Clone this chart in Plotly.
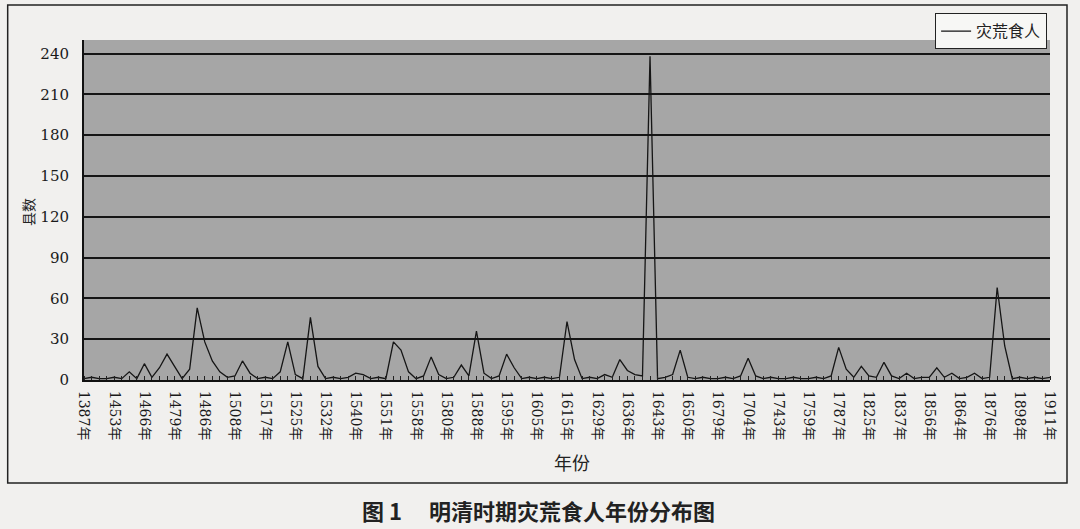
import plotly.graph_objects as go

# Tick labels shown every 4 categories along the category axis
tick_labels = ["1387年", "1453年", "1466年", "1479年", "1486年", "1508年", "1517年", "1525年",
               "1532年", "1540年", "1551年", "1558年", "1580年", "1588年", "1595年", "1605年",
               "1615年", "1629年", "1636年", "1643年", "1650年", "1679年", "1704年", "1743年",
               "1759年", "1787年", "1825年", "1837年", "1856年", "1864年", "1876年", "1898年",
               "1911年"]
label_step = 4

# County counts per category
counts = [1, 2, 1, 1, 2, 1, 6, 1, 12, 2, 9, 19, 10, 1, 8, 53, 28, 14, 6, 2,
          3, 14, 5, 1, 2, 1, 6, 28, 4, 1, 46, 10, 1, 2, 1, 2, 5, 4, 1, 2,
          1, 28, 22, 6, 1, 3, 17, 4, 1, 2, 11, 3, 36, 5, 1, 3, 19, 9, 1, 2,
          1, 2, 1, 2, 43, 15, 1, 2, 1, 4, 2, 15, 7, 4, 3, 238, 1, 2, 4, 22,
          2, 1, 2, 1, 1, 2, 1, 3, 16, 3, 1, 2, 1, 1, 2, 1, 1, 2, 1, 3,
          24, 8, 2, 10, 3, 2, 13, 3, 1, 5, 1, 2, 2, 9, 2, 5, 1, 2, 5, 1,
          2, 68, 25, 1, 2, 1, 2, 1, 2]

series_name = "灾荒食人"
y_title = "县数"
x_title = "年份"
fig_title = "图 1　 明清时期灾荒食人年份分布图"
y_ticks = [0, 30, 60, 90, 120, 150, 180, 210, 240]

x_idx = list(range(len(counts)))
tick_pos = [i * label_step for i in range(len(tick_labels))]

fig = go.Figure()
fig.add_trace(go.Scatter(
    x=x_idx, y=counts, mode="lines", name=series_name,
    line=dict(color="#151515", width=1.3),
))

serif = "DejaVu Serif, Noto Sans CJK SC"
fig.update_layout(
    width=1080, height=529,
    margin=dict(l=84, r=30, t=40, b=149),
    paper_bgcolor="#f1f0ee",
    plot_bgcolor="#a6a6a6",
    showlegend=True,
    legend=dict(
        x=0.997, y=1.079, xanchor="right", yanchor="top",
        bgcolor="#f7f7f5", bordercolor="#222", borderwidth=1,
        font=dict(family="Noto Sans CJK SC", size=16, color="#222"),
        itemwidth=30, tracegroupgap=0,
    ),
    xaxis=dict(
        range=[0, len(counts) - 1],
        tickmode="array", tickvals=tick_pos, ticktext=tick_labels,
        tickangle=90, ticks="", ticklabelstandoff=6,
        tickfont=dict(family=serif, size=14, color="#1a1a1a"),
        showgrid=False, zeroline=False,
        showline=True, linecolor="#111", linewidth=2,
        minor=dict(tickmode="array", tickvals=x_idx, ticks="inside",
                   ticklen=4, tickcolor="#222", tickwidth=1),
    ),
    yaxis=dict(
        range=[0, 250],
        tickmode="array", tickvals=y_ticks,
        ticks="", ticklabelstandoff=10,
        tickfont=dict(family=serif, size=15, color="#1a1a1a"),
        showgrid=True, gridcolor="#151515", gridwidth=1.6,
        zeroline=False,
        showline=True, linecolor="#111", linewidth=2,
    ),
    shapes=[dict(type="rect", xref="paper", yref="paper",
                 x0=-0.079, x1=1.0176, y0=-0.303, y1=1.103,
                 line=dict(color="#222", width=1.5), fillcolor="rgba(0,0,0,0)",
                 layer="below")],
    annotations=[
        dict(text=y_title, xref="paper", yref="paper", x=-0.058, y=0.494,
             xanchor="center", yanchor="middle",
             showarrow=False, textangle=-90,
             font=dict(family="Noto Sans CJK SC", size=14, color="#222")),
        dict(text=x_title, xref="paper", yref="paper", x=0.505, y=-0.241,
             xanchor="center", yanchor="middle",
             showarrow=False,
             font=dict(family="Noto Sans CJK SC", size=18, color="#222")),
        dict(text="<b>" + fig_title + "</b>", xref="paper", yref="paper",
             x=0.471, y=-0.382, xanchor="center", yanchor="middle",
             showarrow=False,
             font=dict(family="Noto Sans CJK SC", size=22, color="#222")),
    ],
)

fig.write_html("out.html", config={"displayModeBar": False},
               post_script="document.body.style.margin='0';")
